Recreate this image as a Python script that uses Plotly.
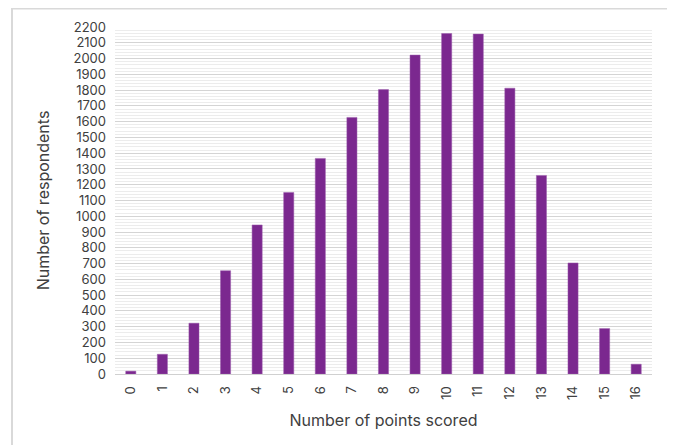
import plotly.graph_objects as go

points = [str(i) for i in range(17)]
respondents = [18, 125, 322, 655, 945, 1151, 1367, 1627, 1803, 2022, 2159, 2155, 1812, 1259, 704, 288, 62]
y_ticks = list(range(0, 2201, 100))

fig = go.Figure()
fig.add_trace(go.Bar(
    x=points, y=respondents,
    marker=dict(color="#7B288F", line=dict(color="#9a5aab", width=0.5)),
))

# page body has an 8px margin; figure coordinates are offset accordingly
W, H = 667, 437
L, T = 107, 19
R, B = 23, 71
pw = W - L - R
ph = H - T - B

fig.update_layout(
    width=W, height=H,
    margin=dict(l=L, r=R, t=T, b=B),
    paper_bgcolor="white", plot_bgcolor="white",
    bargap=0.68,
    showlegend=False,
    font=dict(family="Inter, Lato, sans-serif", size=13, color="#404040"),
    xaxis=dict(
        type="category", tickangle=-90, showgrid=False,
        showline=True, linecolor="#d0d0d0", linewidth=1,
        ticks="", tickfont=dict(size=13), ticklabelstandoff=6,
        title=dict(text="Number of points scored", font=dict(size=16), standoff=15),
        range=[-0.5, 16.5],
    ),
    yaxis=dict(
        range=[0, 2200], tickvals=y_ticks, ticktext=[str(v) for v in y_ticks],
        showgrid=True, gridcolor="#d4d4d4", gridwidth=1,
        minor=dict(dtick=20, showgrid=True, gridcolor="#ececec", gridwidth=1),
        zeroline=False, ticks="", tickfont=dict(size=13), ticklabelstandoff=8,
        title=dict(text="Number of respondents", font=dict(size=16), standoff=19),
    ),
    shapes=[dict(
        type="rect", xref="paper", yref="paper",
        x0=(4 - L) / pw, x1=(663 - L) / pw,
        y0=(T + ph - 445) / ph,
        y1=(T + ph - 0.5) / ph,
        line=dict(color="#d9d9d9", width=2), layer="below",
    )],
)

fig.write_html("out.html")
